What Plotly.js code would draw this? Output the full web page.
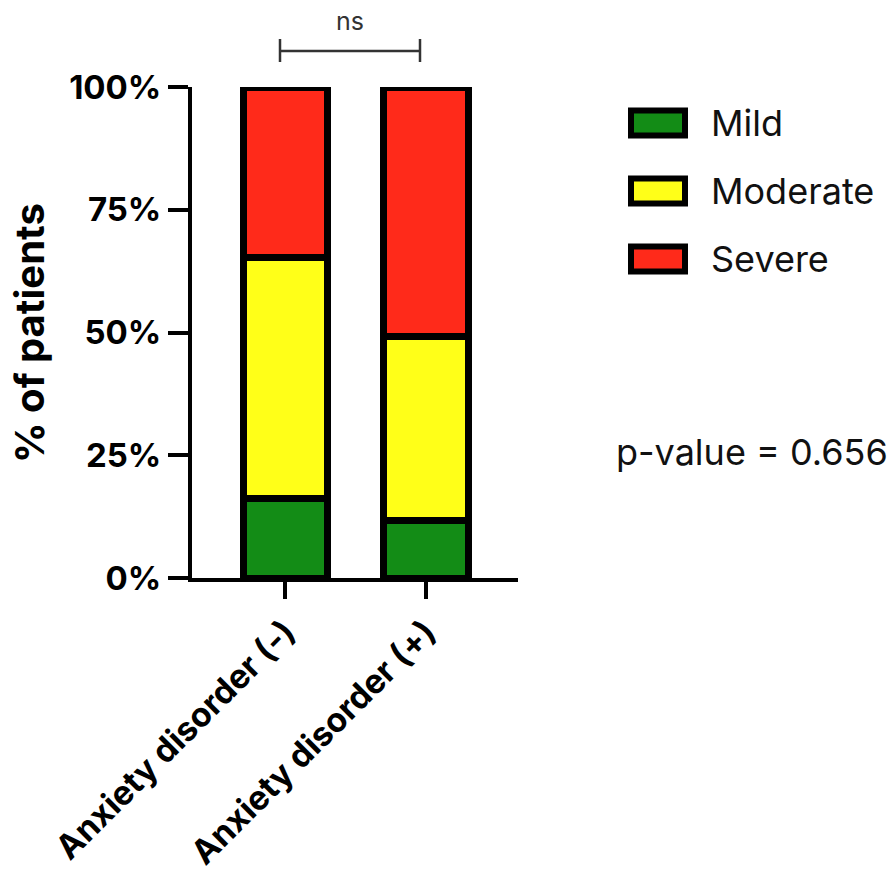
<!DOCTYPE html>
<html>
<head>
<meta charset="utf-8">
<script src="https://cdn.plot.ly/plotly-3.0.1.min.js"></script>
<style>html,body{margin:0;padding:0;background:#fff;}#chart{width:896px;height:874px;}</style>
</head>
<body>
<div id="chart"></div>
<script>
// ---- data ----
var categories = ["Anxiety disorder (-)", "Anxiety disorder (+)"];
var seriesNames = ["Mild", "Moderate", "Severe"];
var mild = [16.2, 11.8];
var moderate = [49.1, 37.4];
var severe = [34.7, 50.8];
var yTickVals = [0, 25, 50, 75, 100];
var yTickText = ["0%", "25%", "50%", "75%", "100%"];
var pValueText = "p-value = 0.656";
var sigText = "ns";

// ---- style ----
var colors = ["#138c16", "#ffff18", "#ff2a1a"];
var FONT = "Inter, 'Liberation Sans', Arial, sans-serif";
var W = 896, H = 874;
var L = 192, R = 518, T = 87, B = 578;
function px(x) { return (x - L) / (R - L); }
function py(y) { return (B - y) / (B - T); }

var seriesValues = [mild, moderate, severe];
var traces = seriesValues.map(function (vals, i) {
  return {
    type: "bar",
    name: seriesNames[i],
    x: categories,
    y: vals,
    width: 0.6,
    marker: { color: colors[i], line: { color: "#000", width: 7 } },
    showlegend: false,
    hoverinfo: "x+y+name"
  };
});

var shapes = [];
var annotations = [];
// legend boxes
var legendY = [123, 191, 259];
seriesNames.forEach(function (n, i) {
  shapes.push({
    type: "rect", xref: "paper", yref: "paper",
    x0: px(631), x1: px(685), y0: py(legendY[i] + 12.5), y1: py(legendY[i] - 12.5),
    fillcolor: colors[i], line: { color: "#000", width: 6 }
  });
  annotations.push({
    xref: "paper", yref: "paper", x: px(709), y: py(legendY[i]),
    xanchor: "left", yanchor: "middle", showarrow: false,
    text: n, font: { family: FONT, size: 36, color: "#111" }
  });
});
// p-value
annotations.push({
  xref: "paper", yref: "paper", x: px(614), y: py(452),
  xanchor: "left", yanchor: "middle", showarrow: false,
  text: pValueText, font: { family: FONT, size: 36, color: "#111" }
});
// significance bracket
shapes.push({ type: "line", xref: "paper", yref: "paper", x0: px(280), x1: px(420), y0: py(51), y1: py(51), line: { color: "#333", width: 2.5 } });
shapes.push({ type: "line", xref: "paper", yref: "paper", x0: px(280), x1: px(280), y0: py(39), y1: py(62), line: { color: "#333", width: 2.5 } });
shapes.push({ type: "line", xref: "paper", yref: "paper", x0: px(420), x1: px(420), y0: py(39), y1: py(62), line: { color: "#333", width: 2.5 } });
annotations.push({
  xref: "paper", yref: "paper", x: px(350), y: py(21),
  xanchor: "center", yanchor: "middle", showarrow: false,
  text: sigText, font: { family: FONT, size: 25, color: "#333" }
});
// y axis title
annotations.push({
  xref: "paper", yref: "paper", x: px(29), y: py(333),
  xanchor: "center", yanchor: "middle", showarrow: false, textangle: -90,
  text: "% of patients", font: { family: FONT, size: 40, color: "#000", weight: "bold" }
});

var layout = {
  width: W, height: H,
  margin: { l: L, r: W - R, t: T, b: H - B, pad: 0 },
  paper_bgcolor: "#fff", plot_bgcolor: "rgba(0,0,0,0)",
  barmode: "stack",
  showlegend: false,
  xaxis: {
    type: "category", range: [-0.665, 1.655],
    showline: true, linecolor: "#000", linewidth: 4,
    ticks: "outside", ticklen: 17, tickwidth: 4, tickcolor: "#000",
    tickangle: -45, showgrid: false, zeroline: false,
    tickfont: { family: FONT, size: 33.5, color: "#000", weight: "bold" },
    automargin: false
  },
  yaxis: {
    range: [0, 100], tickvals: yTickVals, ticktext: yTickText,
    showline: true, linecolor: "#000", linewidth: 4,
    ticks: "outside", ticklen: 20, tickwidth: 4, tickcolor: "#000",
    showgrid: false, zeroline: false,
    tickfont: { family: FONT, size: 33, color: "#000", weight: "bold" },
    automargin: false
  },
  shapes: shapes,
  annotations: annotations
};

Plotly.newPlot("chart", traces, layout, { displayModeBar: false, staticPlot: true });
</script>
</body>
</html>
